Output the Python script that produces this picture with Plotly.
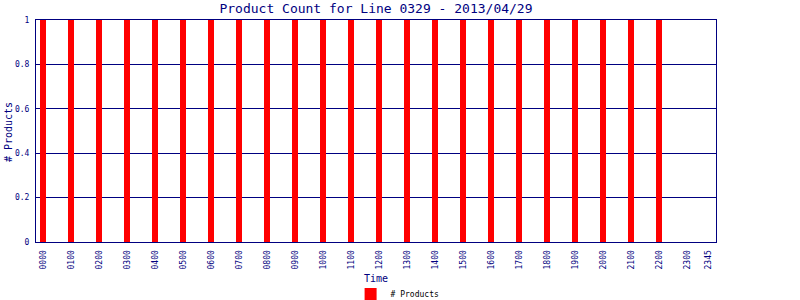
import plotly.graph_objects as go

hours = list(range(0, 23))
counts = [1] * 23
tick_vals = list(range(0, 24)) + [23.75]
tick_text = ["%02d00" % h for h in range(0, 24)] + ["2345"]

NAVY = "#000080"
FONT = "DejaVu Sans Mono"

fig = go.Figure()
fig.add_trace(go.Bar(
    x=hours, y=counts, name="# Products", width=0.22,
    marker=dict(color="#FF0000", line=dict(width=0)),
    showlegend=True,
))

fig.update_layout(
    width=800, height=300,
    margin=dict(l=36, r=84, t=20, b=58, autoexpand=False),
    paper_bgcolor="white", plot_bgcolor="white",
    title=dict(text="Product Count for Line 0329 - 2013/04/29",
               x=0.5, xref="paper", xanchor="center",
               y=1 - 8 / 300, yref="container", yanchor="middle",
               font=dict(family=FONT, size=13, color=NAVY)),
    legend=dict(orientation="h", xref="container", x=0.497, xanchor="center",
                yref="container", y=6 / 300, yanchor="middle",
                font=dict(family=FONT, size=8, color="black"),
                itemwidth=30),
    bargap=0,
    annotations=[
        dict(text="Time", xref="paper", yref="paper", x=0.5, y=(242 - 278) / 222,
             xanchor="center", yanchor="middle", showarrow=False,
             font=dict(family=FONT, size=10, color=NAVY)),
        dict(text="# Products", xref="paper", yref="paper", x=(8 - 36) / 680, y=0.495,
             xanchor="center", yanchor="middle", showarrow=False, textangle=-90,
             font=dict(family=FONT, size=10, color=NAVY)),
    ],
)
fig.update_xaxes(
    range=[-0.25, 24.02], tickmode="array", tickvals=tick_vals, ticktext=tick_text,
    tickangle=-90, tickfont=dict(family=FONT, size=8, color=NAVY),
    showgrid=False, zeroline=False, showline=True, linecolor=NAVY, linewidth=1,
    mirror=True, ticks="", ticklabelstandoff=4, automargin=False,
)
fig.update_yaxes(
    range=[0, 1], dtick=0.2, tickfont=dict(family=FONT, size=8, color=NAVY),
    showgrid=True, gridcolor=NAVY, gridwidth=1, zeroline=False,
    showline=True, linecolor=NAVY, linewidth=1, mirror=True, ticks="",
    ticklabelstandoff=4, automargin=False,
)

fig.write_html("out.html")
